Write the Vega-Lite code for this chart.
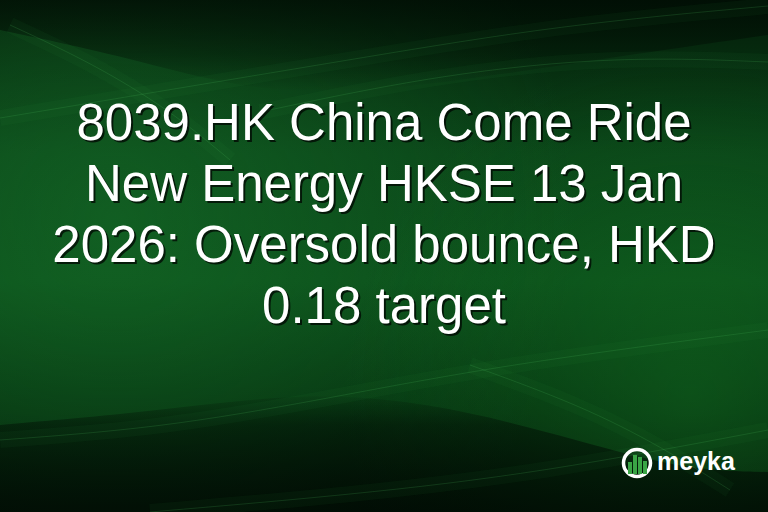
{
  "$schema": "https://vega.github.io/schema/vega-lite/v6.json",
  "width": 768,
  "height": 512,
  "autosize": {"type": "none"},
  "padding": 0,
  "background": "#03200b",
  "datasets": {
    "frame": [{"x": 0, "y": 0, "x2": 768, "y2": 512}],
    "topShade": [
      {"x": 0, "y": 30}, {"x": 120, "y": 55}, {"x": 260, "y": 95},
      {"x": 400, "y": 90}, {"x": 560, "y": 65}, {"x": 768, "y": 35}
    ],
    "bottomShade": [
      {"x": 0, "y": 425}, {"x": 150, "y": 412}, {"x": 300, "y": 392},
      {"x": 430, "y": 402}, {"x": 560, "y": 435}, {"x": 680, "y": 470}, {"x": 768, "y": 472}
    ],
    "streaks": [
      {"s": "a", "x": 0, "y": 118}, {"s": "a", "x": 180, "y": 88}, {"s": "a", "x": 360, "y": 58}, {"s": "a", "x": 560, "y": 25}, {"s": "a", "x": 768, "y": 6},
      {"s": "b", "x": 260, "y": 112}, {"s": "b", "x": 440, "y": 74}, {"s": "b", "x": 620, "y": 56}, {"s": "b", "x": 768, "y": 62},
      {"s": "c", "x": 10, "y": 25}, {"s": "c", "x": 90, "y": 62}, {"s": "c", "x": 170, "y": 110}, {"s": "c", "x": 230, "y": 160},
      {"s": "d", "x": 0, "y": 440}, {"s": "d", "x": 160, "y": 428}, {"s": "d", "x": 320, "y": 400}, {"s": "d", "x": 500, "y": 365}, {"s": "d", "x": 768, "y": 330},
      {"s": "e", "x": 150, "y": 512}, {"s": "e", "x": 350, "y": 495}, {"s": "e", "x": 540, "y": 473}, {"s": "e", "x": 768, "y": 430},
      {"s": "f", "x": 470, "y": 365}, {"s": "f", "x": 580, "y": 405}, {"s": "f", "x": 662, "y": 447}, {"s": "f", "x": 730, "y": 490}
    ],
    "headline": [
      {"x": 384, "y": 140, "text": "8039.HK China Come Ride"},
      {"x": 384, "y": 201, "text": "New Energy HKSE 13 Jan"},
      {"x": 384, "y": 262, "text": "2026: Oversold bounce, HKD"},
      {"x": 384, "y": 323, "text": "0.18 target"}
    ],
    "ring": [{"x": 637, "y": 463}],
    "bars": [
      {"x": 628, "x2": 632, "y": 462, "y2": 474},
      {"x": 633, "x2": 637, "y": 455, "y2": 474},
      {"x": 638, "x2": 642, "y": 457, "y2": 474},
      {"x": 643, "x2": 647, "y": 461, "y2": 474}
    ],
    "brand": [{"x": 657, "y": 470, "text": "meyka"}]
  },
  "encoding": {
    "x": {"field": "x", "type": "quantitative", "scale": {"domain": [0, 768], "nice": false, "zero": false}},
    "y": {"field": "y", "type": "quantitative", "scale": {"domain": [0, 512], "reverse": true, "nice": false, "zero": false}}
  },
  "layer": [
    {
      "data": {"name": "frame"},
      "mark": {
        "type": "rect",
        "fill": {
          "gradient": "linear", "x1": 0, "y1": 0, "x2": 0, "y2": 1,
          "stops": [
            {"offset": 0, "color": "#031c09"},
            {"offset": 0.3, "color": "#0a4418"},
            {"offset": 0.55, "color": "#0b4d1a"},
            {"offset": 0.8, "color": "#05300f"},
            {"offset": 1, "color": "#020e05"}
          ]
        }
      },
      "encoding": {"x2": {"field": "x2"}, "y2": {"field": "y2"}}
    },
    {
      "data": {"name": "frame"},
      "mark": {
        "type": "rect",
        "fill": {
          "gradient": "radial", "x1": 0.15, "y1": 0.45, "r1": 0, "x2": 0.15, "y2": 0.45, "r2": 0.6,
          "stops": [
            {"offset": 0, "color": "rgba(25,120,45,0.45)"},
            {"offset": 1, "color": "rgba(25,120,45,0)"}
          ]
        }
      },
      "encoding": {"x2": {"field": "x2"}, "y2": {"field": "y2"}}
    },
    {
      "data": {"name": "frame"},
      "mark": {
        "type": "rect",
        "fill": {
          "gradient": "radial", "x1": 0.9, "y1": 0.68, "r1": 0, "x2": 0.9, "y2": 0.68, "r2": 0.45,
          "stops": [
            {"offset": 0, "color": "rgba(20,115,35,0.45)"},
            {"offset": 1, "color": "rgba(20,115,35,0)"}
          ]
        }
      },
      "encoding": {"x2": {"field": "x2"}, "y2": {"field": "y2"}}
    },
    {
      "data": {"name": "topShade"},
      "mark": {
        "type": "area",
        "interpolate": "basis",
        "clip": true,
        "fill": {
          "gradient": "linear", "x1": 0, "y1": 0, "x2": 0, "y2": 1,
          "stops": [
            {"offset": 0, "color": "rgba(0,10,3,0.7)"},
            {"offset": 0.6, "color": "rgba(0,10,3,0.35)"},
            {"offset": 1, "color": "rgba(0,10,3,0)"}
          ]
        }
      },
      "encoding": {"y2": {"datum": 0}}
    },
    {
      "data": {"name": "bottomShade"},
      "mark": {
        "type": "area",
        "interpolate": "basis",
        "clip": true,
        "fill": {
          "gradient": "linear", "x1": 0, "y1": 0, "x2": 0, "y2": 1,
          "stops": [
            {"offset": 0, "color": "rgba(0,10,3,0.1)"},
            {"offset": 0.25, "color": "rgba(0,10,3,0.45)"},
            {"offset": 1, "color": "rgba(0,10,3,0.75)"}
          ]
        }
      },
      "encoding": {"y2": {"datum": 512}}
    },
    {
      "data": {"name": "streaks"},
      "mark": {"type": "line", "interpolate": "basis", "clip": true, "stroke": "#3fae55", "strokeWidth": 16, "opacity": 0.05},
      "encoding": {"detail": {"field": "s"}}
    },
    {
      "data": {"name": "streaks"},
      "mark": {"type": "line", "interpolate": "basis", "clip": true, "stroke": "#4cbf60", "strokeWidth": 1, "opacity": 0.18},
      "encoding": {"detail": {"field": "s"}}
    },
    {
      "data": {"name": "headline"},
      "mark": {"type": "text", "align": "center", "baseline": "alphabetic", "font": "Liberation Sans", "fontSize": 51, "fill": "#000000", "opacity": 0.7, "dx": 2, "dy": 2},
      "encoding": {"text": {"field": "text"}}
    },
    {
      "data": {"name": "headline"},
      "mark": {"type": "text", "align": "center", "baseline": "alphabetic", "font": "Liberation Sans", "fontSize": 51, "fill": "#ffffff"},
      "encoding": {"text": {"field": "text"}}
    },
    {
      "data": {"name": "ring"},
      "mark": {"type": "point", "shape": "circle", "filled": false, "stroke": "#ffffff", "strokeWidth": 3.5, "size": 730, "opacity": 1},
      "encoding": {}
    },
    {
      "data": {"name": "bars"},
      "mark": {"type": "rect", "fill": "#3aa545"},
      "encoding": {"x2": {"field": "x2"}, "y2": {"field": "y2"}}
    },
    {
      "data": {"name": "brand"},
      "mark": {"type": "text", "align": "left", "baseline": "alphabetic", "font": "Liberation Sans", "fontWeight": "bold", "fontSize": 25, "fill": "#ffffff"},
      "encoding": {"text": {"field": "text"}}
    }
  ],
  "config": {
    "view": {"stroke": null},
    "axis": {"disable": true}
  }
}
